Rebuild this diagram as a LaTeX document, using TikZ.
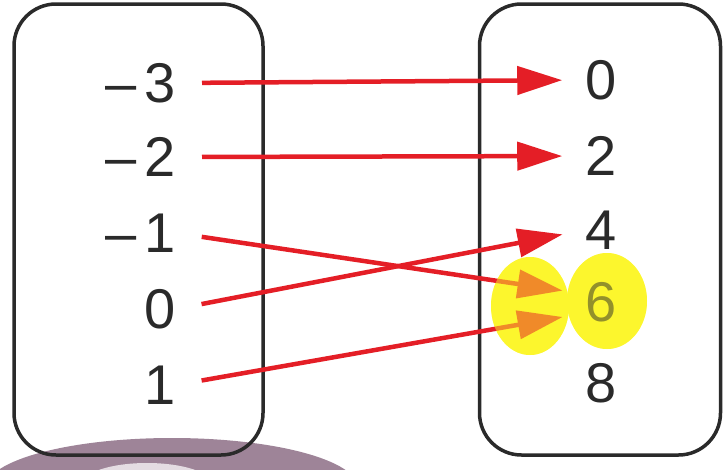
\documentclass[tikz,border=0pt]{standalone}
\usepackage{fontspec}
\setmainfont{Liberation Sans}
\usetikzlibrary{arrows.meta}
\usetikzlibrary{positioning}
\definecolor{arrowred}{RGB}{228,30,38}
\definecolor{inkgrey}{RGB}{42,42,42}
\definecolor{hilite}{RGB}{252,246,45}
\definecolor{shadepurple}{RGB}{158,132,152}
\definecolor{shadelight}{RGB}{228,220,226}
\tikzstyle{every node}+=[inner sep=0pt]
\tikzstyle{set} = [rectangle, draw=inkgrey, line width=3.5pt, rounded corners=42pt]
\tikzstyle{elem} = [text=inkgrey, font=\fontsize{56}{60}\selectfont]
\tikzstyle{line} = [draw=arrowred, line width=4.5pt, shorten <=26pt, shorten >=23pt, -{Triangle[length=45pt, width=28pt]}]
\tikzstyle{glow} = [fill=hilite]
\newcommand{\mns}{\textendash\kern0.15em}

\begin{document}
\begin{tikzpicture}[x=1pt, y=-1pt]
            \useasboundingbox (0,0) rectangle (728,469);
            % Shadow and highlights
            \fill [shadepurple] (172,488) ellipse [x radius=186pt, y radius=50pt];
            \fill [shadelight] (147,485) ellipse [x radius=66pt, y radius=22pt];
            \fill [glow] (530,306) ellipse [x radius=39pt, y radius=49pt];
            \fill [glow] (607,301) ellipse [x radius=40pt, y radius=48pt];
            % Place nodes
            \node [set, minimum width=249pt, minimum height=451pt] (domain) at (138.5,229.5) {};
            \node [set, minimum width=241pt, minimum height=451pt] (range) at (600,229.5) {};
            \node [elem, anchor=east] (m3) at (176,83) {\mns3};
            \node [elem, anchor=east] (m2) at (176,157) {\mns2};
            \node [elem, anchor=east] (m1) at (176,233) {\mns1};
            \node [elem, anchor=east] (p0) at (176,309) {0};
            \node [elem, anchor=east] (p1) at (176,385) {1};
            \node [elem] (r0) at (601,80) {0};
            \node [elem, on grid, below=76pt of r0] (r2) {2};
            \node [elem, on grid, below=74pt of r2] (r4) {4};
            \node [elem, on grid, below=72pt of r4] (r6) {6};
            \node [elem, on grid, below=81pt of r6] (r8) {8};
            % Draw edges
            \path [line] (m3.east) -- (r0.west);
            \path [line] (m2.east) -- (r2.west);
            \path [line] (m1.east) -- ([yshift=8pt]r6.west);
            \path [line] (p0.east) -- (r4.west);
            \path [line] (p1.east) -- ([yshift=-11pt]r6.west);
            % Tint over the highlights
            \fill [glow, opacity=0.5] (530,306) ellipse [x radius=39pt, y radius=49pt];
            \fill [glow, opacity=0.5] (607,301) ellipse [x radius=40pt, y radius=48pt];
\end{tikzpicture}
\end{document}
